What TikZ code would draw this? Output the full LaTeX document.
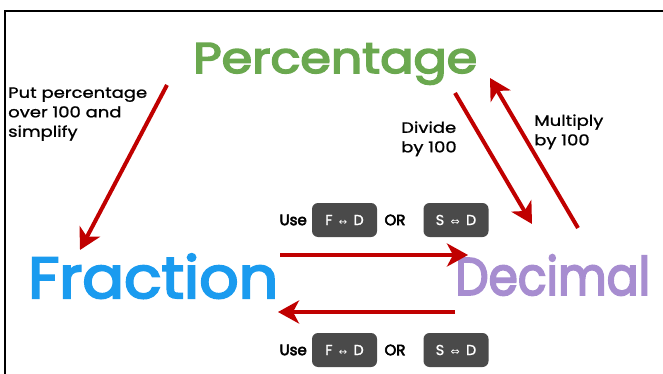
\documentclass[tikz,border=0pt]{standalone}
\usepackage{fontspec}
\setmainfont{Poppins}
\newfontfamily\headfont{Poppins}[FakeBold=3.5]
\newfontfamily\notefont{Poppins}[FakeBold=1]
\newfontfamily\symfont{DejaVu Sans}
\usetikzlibrary{arrows.meta}
\definecolor{pctgreen}{HTML}{6AA84F}
\definecolor{fracblue}{HTML}{1A9BEF}
\definecolor{decpurple}{HTML}{A78DD0}
\definecolor{arrowred}{HTML}{C00000}
\definecolor{keygray}{HTML}{4A4A4A}
% stretch a text horizontally to a given width (in pt), keeping its height
\newsavebox\fitbox
\newcommand\fitwidth[2]{\sbox\fitbox{#2}%
  \pgfmathsetmacro\fitratio{#1/\wd\fitbox}%
  \scalebox{\fitratio}[1]{\usebox\fitbox}}
\newcommand\notelines[1]{\scalebox{1.2}[1]{%
  \begin{tabular}{@{}l@{}}#1\end{tabular}}}
\begin{document}
\begin{tikzpicture}[x=1pt,y=-1pt,
  conv/.style={draw=arrowred, line width=4pt,
    -{Stealth[length=21pt,width=23pt,inset=6pt]}},
  term/.style={inner sep=0pt, anchor=base west},
  note/.style={inner sep=0pt, anchor=north west,
    font=\notefont\fontsize{15}{19.5}\selectfont},
  keybtn/.style={fill=keygray, rounded corners=6pt, minimum width=65pt,
    minimum height=34pt, text=white, inner sep=0pt,
    font=\notefont\fontsize{14.5}{16}\selectfont},
  plain/.style={inner sep=0pt, font=\headfont\fontsize{15}{18}\selectfont}]
\useasboundingbox (0,0) rectangle (663,374);
\fill[white] (0,0) rectangle (663,374);

% partial frame
\draw[line width=2.5pt] (5,374) -- (5,11) -- (663,11);

% the three forms
\node[term, text=pctgreen] (pct) at (193,73)
  {\headfont\fontsize{43}{46}\selectfont\fitwidth{284}{Percentage}};
\node[term, text=fracblue] (frac) at (28,298)
  {\headfont\fontsize{58}{62}\selectfont\fitwidth{250}{Fraction}};
\node[term, text=decpurple] (dec) at (455,295)
  {\headfont\fontsize{53}{57}\selectfont\fitwidth{195}{Decimal}};

% side notes
\node[note] (n1) at (8,84) {\notelines{Put percentage\\over 100 and\\simplify}};
\node[note] (n2) at (401,119) {\notelines{Divide\\by 100}};
\node[note] (n3) at (534,112) {\notelines{Multiply\\by 100}};

% calculator keys, upper row
\node[plain, anchor=east] (use1) at (307,220) {Use};
\node[keybtn] (k1) at (344.5,220) {F\, {\symfont\fontsize{10}{10}\selectfont ↔}\, D};
\node[plain] (or1) at (395,220) {OR};
\node[keybtn] (k2) at (456,220) {S\, {\symfont\fontsize{11}{11}\selectfont ⇔}\, D};

% calculator keys, lower row
\node[plain, anchor=east] (use2) at (307,350) {Use};
\node[keybtn] (k3) at (344.5,350) {F\, {\symfont\fontsize{10}{10}\selectfont ↔}\, D};
\node[plain] (or2) at (395,350) {OR};
\node[keybtn] (k4) at (456,350) {S\, {\symfont\fontsize{11}{11}\selectfont ⇔}\, D};

% arrow end points
\coordinate (pf1) at (167,85);
\coordinate (pf2) at (80,250);
\coordinate (pd1) at (455,93);
\coordinate (pd2) at (532,224);
\coordinate (dp1) at (578,228);
\coordinate (dp2) at (490,78);
\coordinate (fd1) at (280,255);
\coordinate (fd2) at (468,255);
\coordinate (df1) at (455,312);
\coordinate (df2) at (278,312);

\draw[conv] (pf1) -- (pf2);
\draw[conv] (pd1) -- (pd2);
\draw[conv] (dp1) -- (dp2);
\draw[conv] (fd1) -- (fd2);
\draw[conv] (df1) -- (df2);
\end{tikzpicture}
\end{document}
